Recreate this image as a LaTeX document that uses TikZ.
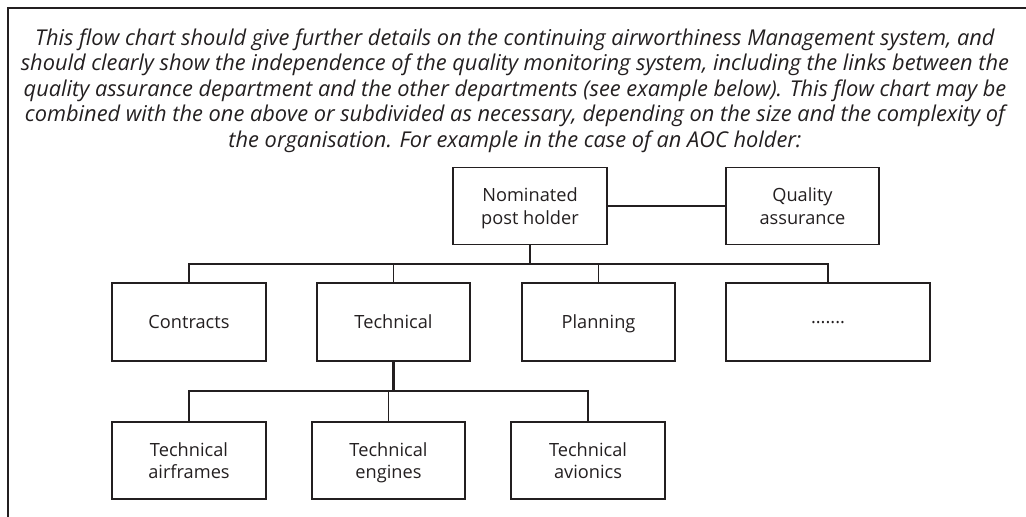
\documentclass[tikz,border=0pt]{standalone}
\usepackage{fontspec}
\setmainfont{Open Sans}
\definecolor{ink}{HTML}{231F20}
\begin{document}
\begin{tikzpicture}[x=1pt,y=-1pt,
  box/.style={draw=ink, line width=1.3pt, align=center, inner sep=0pt,
    minimum width=154pt, minimum height=77pt, text=ink, text depth=0pt,
    font=\fontsize{18.2}{22.5}\selectfont},
  introline/.style={text=ink, anchor=base, inner sep=0pt,
    font=\itshape\fontsize{21.8}{26}\selectfont},
  link/.style={draw=ink, line width=1.3pt},
  stem/.style={draw=ink, line width=2.2pt}]
\useasboundingbox (0,0) rectangle (1026,517);
\draw[draw=ink, line width=2.2pt] (8,517) -- (8,8) -- (1026,8);
\node[introline] (l1) at (515,45) {This flow chart should give further details on the continuing airworthiness Management system, and};
\node[introline] (l2) at (515,70.5) {should clearly show the independence of the quality monitoring system, including the links between the};
\node[introline] (l3) at (515,96) {quality assurance department and the other departments (see example below). This flow chart may be};
\node[introline] (l4) at (515,121.5) {combined with the one above or subdivided as necessary, depending on the size and the complexity of};
\node[introline] (l5) at (515,147) {the organisation. For example in the case of an AOC holder:};
\node[box] (nph) at (530,206) {Nominated\\post holder};
\node[box, minimum width=153pt] (qa) at (802.5,206) {Quality\\assurance};
\node[box, minimum height=78pt] (contracts) at (189,322) {Contracts};
\node[box, minimum width=153pt, minimum height=78pt] (technical) at (393.5,322) {Technical};
\node[box, minimum width=153pt, minimum height=78pt] (planning) at (598.5,322) {Planning};
\node[box, minimum width=204pt, minimum height=78pt] (dots) at (828,322) {.......};
\node[box] (airframes) at (189,460.5) {Technical\\airframes};
\node[box, minimum width=153pt] (engines) at (388.5,460.5) {Technical\\engines};
\node[box, minimum width=154pt] (avionics) at (588,460.5) {Technical\\avionics};
\coordinate (bus1) at (530,264);
\coordinate (bus2) at (393.5,391);
\draw[link] (nph.east) -- (qa.west);
\draw[stem] (nph.south) -- (bus1);
\draw[link] (contracts.north) -- (contracts.north |- bus1) -- (dots.north |- bus1) -- (dots.north);
\draw[link] (technical.north) -- (technical.north |- bus1);
\draw[link] (planning.north) -- (planning.north |- bus1);
\draw[stem] (technical.south) -- (bus2);
\draw[link] (airframes.north) -- (airframes.north |- bus2) -- (avionics.north |- bus2) -- (avionics.north);
\draw[link] (engines.north) -- (engines.north |- bus2);
\end{tikzpicture}
\end{document}
